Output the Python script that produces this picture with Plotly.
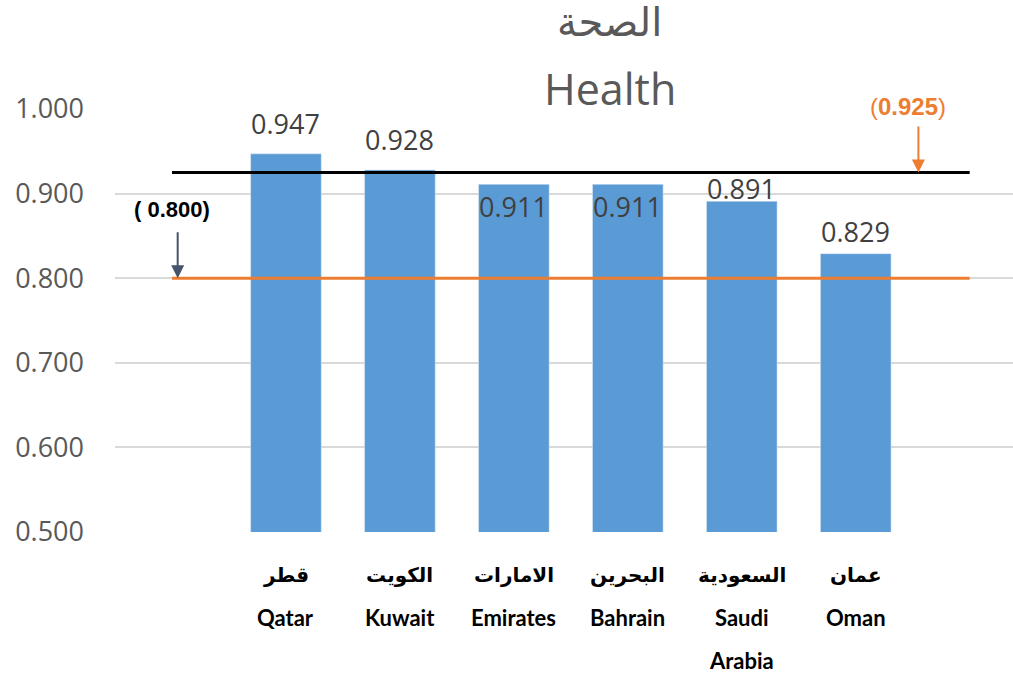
import plotly.graph_objects as go

categories_ar = ["", "قطر", "الكويت", "الامارات", "البحرين", "السعودية", "عمان"]
categories_en = ["", "Qatar", "Kuwait", "Emirates", "Bahrain", "Saudi<br>Arabia", "Oman"]
values = [None, 0.947, 0.928, 0.911, 0.911, 0.891, 0.829]
target_high = 0.925
target_low = 0.800
y_ticks = [0.5, 0.6, 0.7, 0.8, 0.9, 1.0]

xs = list(range(len(categories_ar)))
W, H = 1013, 682
L, T, B = 115, 109, 150

fig = go.Figure()
fig.add_trace(go.Bar(x=xs, y=values, width=0.62, marker=dict(color="#5B9BD5"),
                     showlegend=False, hoverinfo="skip"))
fig.add_trace(go.Scatter(x=[0, 7], y=[target_high, target_high], mode="lines",
                         line=dict(color="#000000", width=3), showlegend=False))
fig.add_trace(go.Scatter(x=[0, 7], y=[target_low, target_low], mode="lines",
                         line=dict(color="#ED7D31", width=3), showlegend=False))

ann = []
label_shift = [0, 30, 30, -22, -22, 13, 22]
for x, v, s in zip(xs, values, label_shift):
    if v is None:
        continue
    ann.append(dict(x=x, y=v, xref="x", yref="y", text=f"{v:.3f}", showarrow=False,
                    yshift=s, font=dict(size=27, color="#404040", family="Open Sans, sans-serif")))
for x, ar, en in zip(xs, categories_ar, categories_en):
    if not ar:
        continue
    ann.append(dict(x=x, y=0, xref="x", yref="paper", text=f"<b>{ar}</b>", showarrow=False,
                    yanchor="middle", yshift=-43,
                    font=dict(size=20, color="#000000", family="DejaVu Sans, sans-serif")))
    parts = en.split("<br>")
    for i, p in enumerate(parts):
        ann.append(dict(x=x, y=0, xref="x", yref="paper", text=f"<b>{p}</b>", showarrow=False,
                        yanchor="middle", yshift=-85 - 43 * i,
                        font=dict(size=22, color="#000000", family="Lato, sans-serif")))

# title
ann.append(dict(x=0.551, y=1, xref="paper", yref="paper", text="الصحة", showarrow=False,
                yanchor="middle", yshift=T - 22,
                font=dict(size=40, color="#595959", family="DejaVu Sans, sans-serif")))
ann.append(dict(x=0.551, y=1, xref="paper", yref="paper", text="Health", showarrow=False,
                yanchor="middle", yshift=T - 88,
                font=dict(size=43, color="#595959", family="Open Sans, sans-serif")))

# target annotations with arrows
ann.append(dict(x=0.05, y=target_low, xref="x", yref="y", ax=0.05, ay=target_low + 0.056,
                axref="x", ayref="y", showarrow=True, arrowhead=2, arrowsize=1.3,
                arrowwidth=2, arrowcolor="#44546A", text=""))
ann.append(dict(x=0.0, y=target_low, xref="x", yref="y", text="<b>( 0.800)</b>", showarrow=False,
                yshift=69, font=dict(size=22, color="#000000", family="Liberation Sans, sans-serif")))
ann.append(dict(x=6.55, y=target_high, xref="x", yref="y", ax=6.55, ay=target_high + 0.056,
                axref="x", ayref="y", showarrow=True, arrowhead=2, arrowsize=1.3,
                arrowwidth=2, arrowcolor="#ED7D31", text=""))
ann.append(dict(x=6.46, y=target_high, xref="x", yref="y", text="(<b>0.925</b>)", showarrow=False,
                yshift=66, font=dict(size=24, color="#ED7D31", family="Liberation Sans, sans-serif")))

fig.update_layout(
    width=W, height=H,
    margin=dict(l=L, r=0, t=T, b=B),
    plot_bgcolor="white", paper_bgcolor="white",
    annotations=ann,
    xaxis=dict(range=[-0.5, 7.38], showticklabels=False, showgrid=False, zeroline=False,
               showline=False, fixedrange=True),
    yaxis=dict(range=[0.5, 1.0], tickvals=y_ticks, tickformat=".3f",
               tickfont=dict(size=27, color="#595959", family="Open Sans, sans-serif"),
               showgrid=True, gridcolor="#D9D9D9", gridwidth=1.5, zeroline=False,
               showline=False, ticks="", ticklabelstandoff=30),
    bargap=0.38,
)

fig.write_html("out.html", config={"displayModeBar": False},
               post_script="document.body.style.margin='0';")
